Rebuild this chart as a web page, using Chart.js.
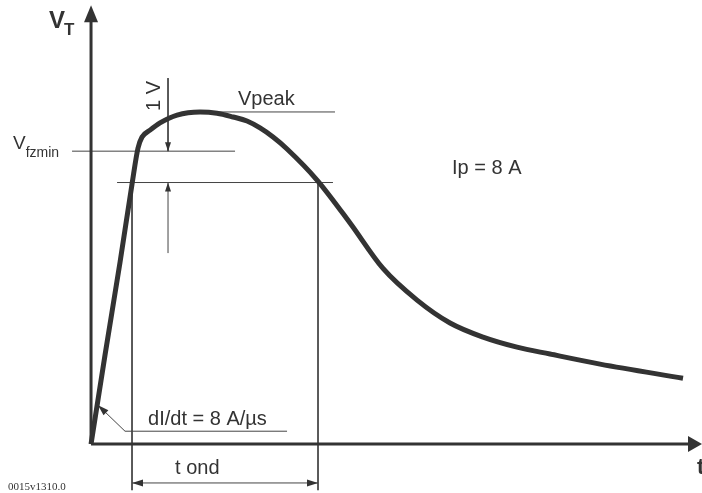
<!DOCTYPE html>
<html>
<head>
<meta charset="utf-8">
<script src="https://cdn.jsdelivr.net/npm/chart.js@4.4.1/dist/chart.umd.min.js"></script>
<style>
  html, body { margin: 0; padding: 0; background: #fff; }
  canvas { display: block; }
</style>
</head>
<body>
<canvas id="vtChart" width="702" height="493"></canvas>
<script>
// curve V_T(t) (t arbitrary units, V in volts)
const tempo = [0, 2.29, 4.75, 6.71, 7.69, 8.35, 9.66, 11.29, 14.08, 17.84, 20.62, 23.24, 25.53, 27.66, 29.79, 32.08, 36.99, 42.39, 47.79, 53.36, 58.76, 64.16, 69.72, 75.12, 83.31, 96.89];
const tensao = [0, 2.84, 5.80, 8.29, 9.44, 9.79, 10.01, 10.24, 10.49, 10.59, 10.55, 10.43, 10.30, 10.08, 9.79, 9.41, 8.42, 7.05, 5.60, 4.59, 3.86, 3.41, 3.09, 2.87, 2.55, 2.10];

// reference levels
const vFzMin = 9.34;
const vFzLow = vFzMin - 1;
const vPeak = 10.59;
const tOnStart = 6.71;
const tOnEnd = 37.15;

const TXT = "#333";
const FONT = "'Liberation Sans', Arial, sans-serif";

function seg(x1, y1, x2, y2, w) {
  return {
    data: [{ x: x1, y: y1 }, { x: x2, y: y2 }],
    borderColor: w > 1 ? "#333" : "#444",
    borderWidth: w,
    pointRadius: 0,
    tension: 0
  };
}

// ================= ANOTAÇÕES (setas e textos) ==================

function seta(ctx, x0, y0, x1, y1, len, half) {
  const a = Math.atan2(y1 - y0, x1 - x0);
  ctx.save();
  ctx.translate(x1, y1);
  ctx.rotate(a);
  ctx.beginPath();
  ctx.moveTo(0, 0);
  ctx.lineTo(-len, -half);
  ctx.lineTo(-len, half);
  ctx.closePath();
  ctx.fill();
  ctx.restore();
}

const anotacoes = {
  id: "anotacoes",
  afterDatasetsDraw(chart) {
    const ctx = chart.ctx;
    const px = v => chart.scales.x.getPixelForValue(v);
    const py = v => chart.scales.y.getPixelForValue(v);
    ctx.save();
    ctx.fillStyle = "#333";

    // setas dos eixos
    seta(ctx, px(0), py(0), px(0), py(13.99), 17, 7);
    seta(ctx, px(0), py(0), px(100), py(0), 14, 8);

    // 1 V
    seta(ctx, px(12.6), py(11.67), px(12.6), py(vFzMin), 9, 3);
    seta(ctx, px(12.6), py(6.09), px(12.6), py(vFzLow), 9, 3);

    // t ond
    seta(ctx, px(tOnEnd), py(-1.24), px(tOnStart), py(-1.24), 11, 3.5);
    seta(ctx, px(tOnStart), py(-1.24), px(tOnEnd), py(-1.24), 11, 3.5);

    // dI/dt
    seta(ctx, px(5.56), py(0.41), px(1.15), py(1.24), 11, 3.5);

    ctx.fillStyle = TXT;
    ctx.textBaseline = "alphabetic";
    ctx.textAlign = "left";

    // V_T
    ctx.font = "bold 24px " + FONT;
    let x = px(-6.9), y = py(13.27);
    ctx.fillText("V", x, y);
    let w = ctx.measureText("V").width;
    ctx.font = "bold 17px " + FONT;
    ctx.fillText("T", x + w - 1, y + 7);

    // V_fzmin
    ctx.font = "19px " + FONT;
    x = px(-12.77); y = py(9.41);
    ctx.fillText("V", x, y);
    w = ctx.measureText("V").width;
    ctx.font = "14px " + FONT;
    ctx.fillText("fzmin", x + w, y + 8);

    ctx.font = "20px " + FONT;
    ctx.fillText("Vpeak", px(24.06), py(10.81));
    ctx.fillText("Ip = 8 A", px(59.08), py(8.61));
    ctx.fillText("dI/dt = 8 A/\u00b5s", px(9.33), py(0.61));
    ctx.fillText("t ond", px(13.75), py(-0.96));

    // 1 V rotacionado
    ctx.save();
    ctx.translate(px(11.29), py(11.10));
    ctx.rotate(-Math.PI / 2);
    ctx.textAlign = "center";
    ctx.fillText("1 V", 0, 0);
    ctx.restore();

    ctx.font = "bold 22px " + FONT;
    ctx.fillText("t", px(99.2), py(-0.96));

    ctx.font = "11px 'Liberation Serif', 'Times New Roman', serif";
    ctx.fillText("0015v1310.0", px(-13.58), py(-1.47));

    ctx.restore();
  }
};

// ================= GRÁFICO ==================

const ctx = document.getElementById("vtChart").getContext("2d");

new Chart(ctx, {
  type: "line",
  data: {
    datasets: [
      {
        data: tempo.map((t, i) => ({ x: t, y: tensao[i] })),
        borderColor: "#333",
        borderWidth: 5,
        pointRadius: 0,
        cubicInterpolationMode: "monotone",
        borderJoinStyle: "round"
      },
      // eixos
      seg(0, 0, 0, 13.8, 3),
      seg(0, 0, 98, 0, 3),
      // níveis
      seg(-3.11, vFzMin, 23.57, vFzMin, 1),
      seg(4.26, vFzLow, 39.6, vFzLow, 1),
      seg(17.8, vPeak, 39.93, vPeak, 1),
      // 1 V
      seg(12.6, 11.67, 12.6, vFzMin, 1),
      seg(12.6, 6.09, 12.6, vFzLow, 1),
      // t ond
      seg(tOnStart, vFzLow, tOnStart, -1.47, 1),
      seg(tOnEnd, vFzLow, tOnEnd, -1.47, 1),
      seg(tOnStart, -1.24, tOnEnd, -1.24, 1),
      // dI/dt
      seg(1.15, 1.24, 5.56, 0.41, 1),
      seg(5.56, 0.41, 32.08, 0.41, 1)
    ]
  },
  options: {
    responsive: false,
    animation: false,
    layout: { padding: 0 },
    plugins: { legend: { display: false }, tooltip: { enabled: false } },
    scales: {
      x: { type: "linear", display: false, min: -14.9, max: 100 },
      y: { type: "linear", display: false, min: -1.56, max: 14.16 }
    }
  },
  plugins: [anotacoes]
});
</script>
</body>
</html>
